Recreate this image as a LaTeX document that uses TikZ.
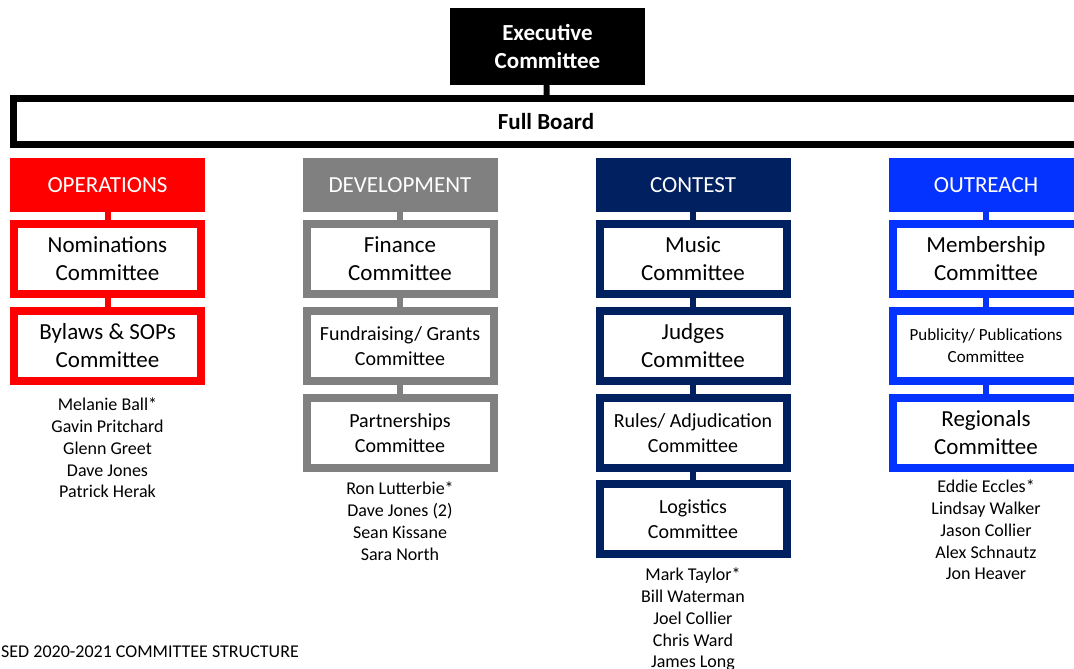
\documentclass[tikz,border=0pt]{standalone}
\usepackage{fontspec}
\setmainfont{Carlito}
\usetikzlibrary{positioning}
\definecolor{opsred}{RGB}{255,0,0}
\definecolor{devgray}{RGB}{128,128,128}
\definecolor{connavy}{RGB}{0,32,96}
\definecolor{outblue}{RGB}{4,51,255}
\begin{document}
\begin{tikzpicture}[x=1pt, y=-1pt, node distance=87pt,
      head/.style={fill=#1, text=white, minimum width=195pt, minimum height=54pt,
         inner sep=0pt, font=\fontsize{23}{28}\selectfont},
      comm/.style={draw=#1, line width=8pt, fill=white, minimum width=187pt,
         minimum height=70pt, inner sep=0pt, align=center, font=\fontsize{23}{28}\selectfont},
      smalltext/.style={font=\fontsize{20}{25}\selectfont},
      tinytext/.style={font=\fontsize{17}{22}\selectfont},
      names/.style={align=center, inner sep=0pt, font=\fontsize{18}{21.7}\selectfont},
      link/.style={draw=#1, line width=6pt}]
      \clip (0,0) rectangle (1074,669);
      % top of the chart
      \node (exec) [fill=black, text=white, minimum width=195pt, minimum height=77pt,
         align=center, font=\bfseries\fontsize{23}{28}\selectfont] at (547.5,46.5) {
         Executive\\Committee
      };
      \node (board) [draw=black, line width=7pt, minimum width=1065pt, minimum height=46pt,
         font=\bfseries\fontsize{23}{28}\selectfont] at (546,121.5) {
         Full Board
      };
      \draw[link=black] (exec) -- (board);
      % operations
      \node (ops) [head=opsred] at (107.5,185) {OPERATIONS};
      \node (nom) [comm=opsred, below of=ops, node distance=74pt] {Nominations\\Committee};
      \node (byl) [comm=opsred, below of=nom] {Bylaws \& SOPs\\Committee};
      \node (opsnames) [names, below=13pt of byl] {
         Melanie Ball*\\Gavin Pritchard\\Glenn Greet\\Dave Jones\\Patrick Herak
      };
      \draw[link=opsred] (ops) -- (nom);
      \draw[link=opsred] (nom) -- (byl);
      % development
      \node (dev) [head=devgray] at (400,185) {DEVELOPMENT};
      \node (fin) [comm=devgray, below of=dev, node distance=74pt] {Finance\\Committee};
      \node (fund) [comm=devgray, smalltext, below of=fin] {Fundraising/ Grants\\Committee};
      \node (part) [comm=devgray, smalltext, below of=fund] {Partnerships\\Committee};
      \node (devnames) [names, below=10pt of part] {
         Ron Lutterbie*\\Dave Jones (2)\\Sean Kissane\\Sara North
      };
      \draw[link=devgray] (dev) -- (fin);
      \draw[link=devgray] (fin) -- (fund);
      \draw[link=devgray] (fund) -- (part);
      % contest
      \node (con) [head=connavy] at (693,185) {CONTEST};
      \node (mus) [comm=connavy, below of=con, node distance=74pt] {Music\\Committee};
      \node (jud) [comm=connavy, below of=mus] {Judges\\Committee};
      \node (rul) [comm=connavy, smalltext, below of=jud] {Rules/ Adjudication\\Committee};
      \node (log) [comm=connavy, smalltext, below of=rul, node distance=86pt] {Logistics\\Committee};
      \node (connames) [names, below=10pt of log] {
         Mark Taylor*\\Bill Waterman\\Joel Collier\\Chris Ward\\James Long
      };
      \draw[link=connavy] (con) -- (mus);
      \draw[link=connavy] (mus) -- (jud);
      \draw[link=connavy] (jud) -- (rul);
      \draw[link=connavy] (rul) -- (log);
      % outreach
      \node (out) [head=outblue] at (986,185) {OUTREACH};
      \node (mem) [comm=outblue, below of=out, node distance=74pt] {Membership\\Committee};
      \node (pub) [comm=outblue, tinytext, below of=mem] {Publicity/ Publications\\Committee};
      \node (reg) [comm=outblue, below of=pub] {Regionals\\Committee};
      \node (outnames) [names, below=8pt of reg] {
         Eddie Eccles*\\Lindsay Walker\\Jason Collier\\Alex Schnautz\\Jon Heaver
      };
      \draw[link=outblue] (out) -- (mem);
      \draw[link=outblue] (mem) -- (pub);
      \draw[link=outblue] (pub) -- (reg);
      % footer
      \node (title) [anchor=west, inner sep=0pt, font=\fontsize{18}{21.7}\selectfont] at (1,652) {
         SED 2020-2021 COMMITTEE STRUCTURE
      };
\end{tikzpicture}
\end{document}
